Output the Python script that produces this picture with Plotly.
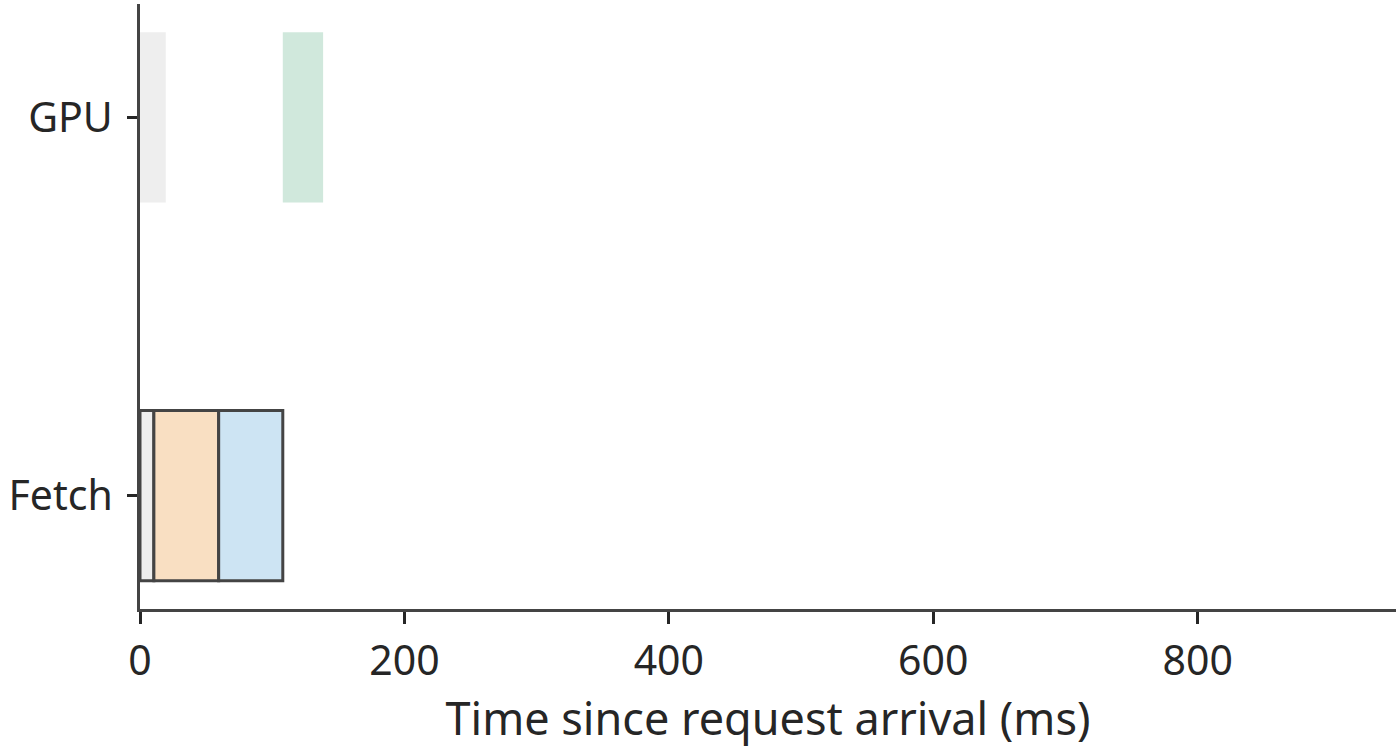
import plotly.graph_objects as go

rows = ["Fetch", "GPU"]
# segments: (row, start_ms, end_ms, color, outlined)
seg_rows = ["Fetch", "Fetch", "Fetch", "GPU", "GPU"]
seg_start = [0, 10.5, 59.5, 0, 108]
seg_end = [10.5, 59.5, 108, 19.5, 138.5]
seg_colors = ["#eeeeee", "#f9dfc2", "#cde4f3", "#eeeeee", "#d0e8dc"]
seg_outline = [True, True, True, False, False]

x_ticks = [0, 200, 400, 600, 800]

fig = go.Figure()
for r, s, e, c, o in zip(seg_rows, seg_start, seg_end, seg_colors, seg_outline):
    fig.add_trace(go.Bar(
        y=[r], x=[e - s], base=[s], orientation="h", width=0.45,
        marker=dict(color=c, line=dict(color="#444444", width=3 if o else 0)),
        showlegend=False, hoverinfo="skip",
    ))

font_family = "Noto Sans"
fig.update_layout(
    width=1400, height=751,
    margin=dict(l=140, r=4, t=4, b=142),
    plot_bgcolor="white", paper_bgcolor="white",
    barmode="overlay",
    font=dict(family=font_family, color="#262626"),
    xaxis=dict(
        range=[0, 950], tickvals=x_ticks, ticks="outside", ticklen=12, tickwidth=2.5,
        tickcolor="#262626", showline=True, linecolor="#444444", linewidth=3,
        showgrid=False, zeroline=False, tickfont=dict(size=41), ticklabelstandoff=2,
        title=dict(text="Time since request arrival (ms)", font=dict(size=45), standoff=14),
    ),
    yaxis=dict(
        categoryorder="array", categoryarray=rows, range=[-0.3, 1.3],
        ticks="outside", ticklen=10, tickwidth=2.5, tickcolor="#262626",
        showline=True, linecolor="#444444", linewidth=3, showgrid=False,
        zeroline=False, tickfont=dict(size=41), ticklabelstandoff=6,
    ),
)
fig.write_html("out.html", config={"displayModeBar": False},
               post_script="document.body.style.margin='0px';")
